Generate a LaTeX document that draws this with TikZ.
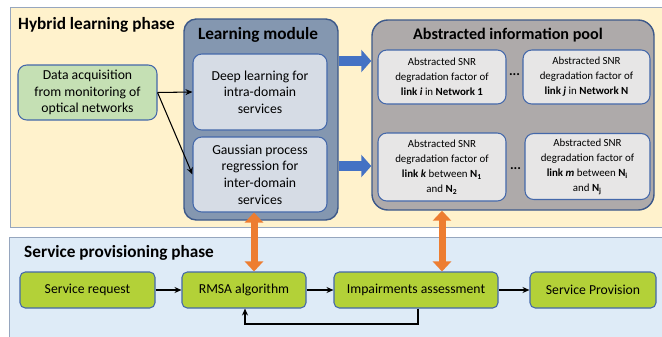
\documentclass[tikz,border=0pt]{standalone}
\usepackage{fontspec}
\setmainfont{Carlito}
\usetikzlibrary{arrows.meta,calc}
\definecolor{yell}{RGB}{255,242,204}
\definecolor{lblue}{RGB}{222,235,247}
\definecolor{panline}{RGB}{150,166,190}
\definecolor{modfill}{RGB}{132,151,176}
\definecolor{modline}{RGB}{61,89,138}
\definecolor{inner}{RGB}{214,220,229}
\definecolor{boxline}{RGB}{68,104,170}
\definecolor{datagreen}{RGB}{197,224,180}
\definecolor{poolgray}{RGB}{174,170,170}
\definecolor{subgray}{RGB}{231,230,230}
\definecolor{lime}{RGB}{179,209,56}
\definecolor{bluear}{RGB}{68,114,196}
\definecolor{orar}{RGB}{237,125,49}
\newcommand\txtA{\fontsize{7.8}{9.5}\selectfont}
\newcommand\txtB{\fontsize{6.2}{8.6}\selectfont}
\newcommand\ttlfont{\fontsize{9.8}{11}\selectfont\bfseries}
\tikzset{panel/.style={draw=panline,line width=0.5pt},
bx/.style={draw=boxline,line width=0.6pt,align=center,inner sep=1pt,rounded corners=5pt},
gbox/.style={bx,fill=lime,minimum height=0.72cm,rounded corners=3pt,font=\txtA},
sub/.style={bx,fill=subgray,font=\txtB},
ttl/.style={font=\ttlfont},
conn/.style={line width=0.6pt,-{Stealth[length=1.4mm,width=1.2mm]}},
blk/.style={bluear,line width=0.2cm,-{Triangle[length=0.2cm,width=0.44cm]}},
oar/.style={orar,line width=0.14cm,{Triangle[length=0.2cm,width=0.36cm]}-{Triangle[length=0.2cm,width=0.36cm]}}}
\begin{document}
\begin{tikzpicture}
\useasboundingbox (0,0) rectangle (13.24,-6.72);
\draw[panel,fill=yell] (0.2,-0.14) rectangle (13.4,-4.54);
\draw[panel,fill=lblue] (0.18,-4.74) rectangle (13.4,-6.9);
\node[ttl,anchor=west] (hyb) at (0.24,-0.5) {Hybrid learning phase};
\node[ttl,anchor=west] (spp) at (0.36,-5.06) {Service provisioning phase};

% learning module
\node[bx,draw=modline,line width=0.8pt,fill=modfill,rounded corners=7pt,minimum width=3.08cm,minimum height=4.02cm] (lm) at (5.22,-2.39) {};
\node[ttl] (lmt) at (5.16,-0.7) {Learning module};
\node[bx,fill=inner,font=\txtA,minimum width=2.68cm,minimum height=1.52cm] (deep) at (5.2,-1.84) {Deep learning for\\intra-domain\\services};
\node[bx,fill=inner,font=\txtA,minimum width=2.68cm,minimum height=1.5cm] (gauss) at (5.2,-3.49) {Gaussian process\\regression for\\inter-domain\\services};
\node[bx,fill=datagreen,font=\txtA,minimum width=2.78cm,minimum height=1.1cm] (data) at (1.75,-1.85) {Data acquisition\\from monitoring of\\optical networks};
\draw[conn] (data.east) -- (deep.west);
\draw[conn] (data.east) -- (gauss.west);

% information pool
\node[bx,draw=modline,line width=0.8pt,fill=poolgray,rounded corners=9pt,minimum width=5.64cm,minimum height=3.8cm] (pool) at (10.26,-2.3) {};
\node[ttl,font=\fontsize{9.2}{11}\selectfont\bfseries] (poolt) at (10.16,-0.7) {Abstracted information pool};
\node[sub,minimum width=2.56cm,minimum height=1.08cm] (b1) at (8.84,-1.54) {Abstracted SNR\\degradation factor of\\\textbf{link \textit{i}} in \textbf{Network 1}};
\node[sub,minimum width=2.54cm,minimum height=1.08cm] (b2) at (11.73,-1.54) {Abstracted SNR\\degradation factor of\\\textbf{link \textit{j}} in \textbf{Network N}};
\node[sub,minimum width=2.56cm,minimum height=1.36cm] (b3) at (8.84,-3.34) {Abstracted SNR\\degradation factor of\\\textbf{link \textit{k}} between \textbf{N\textsubscript{1}}\\and \textbf{N\textsubscript{2}}};
\node[sub,minimum width=2.5cm,minimum height=1.32cm] (b4) at (11.75,-3.33) {Abstracted SNR\\degradation factor of\\\textbf{link \textit{m}} between \textbf{N\textsubscript{i}}\\and \textbf{N\textsubscript{j}}};
\node[font=\txtA\bfseries] (d1) at (10.29,-1.5) {...};
\node[font=\txtA\bfseries] (d2) at (10.31,-3.38) {...};
\coordinate (r1) at (0,-1.22);
\coordinate (r2) at (0,-3.32);
\draw[blk] (lm.east |- r1) -- (pool.west |- r1);
\draw[blk] (lm.east |- r2) -- (pool.west |- r2);

% provisioning
\node[gbox,minimum width=2.7cm] (sreq) at (1.75,-5.8) {Service request};
\node[gbox,minimum width=2.48cm] (rmsa) at (4.88,-5.8) {RMSA algorithm};
\node[gbox,minimum width=3.28cm] (imp) at (8.32,-5.8) {Impairments assessment};
\node[gbox,minimum width=2.52cm] (prov) at (11.86,-5.8) {Service Provision};
\draw[conn] (sreq) -- (rmsa);
\draw[conn] (rmsa) -- (imp);
\draw[conn] (imp) -- (prov);
\coordinate (fa) at (8.36,-6.48);
\coordinate (fb) at (4.9,-6.48);
\draw[conn] (imp.south -| fa) -- (fa) -- (fb) -- (rmsa.south -| fb);

\coordinate (o1) at (5.08,0);
\draw[oar] (gauss.south -| o1) -- (rmsa.north -| o1);
\draw[oar] (pool.south -| b3) -- (imp.north -| b3);
\end{tikzpicture}
\end{document}
